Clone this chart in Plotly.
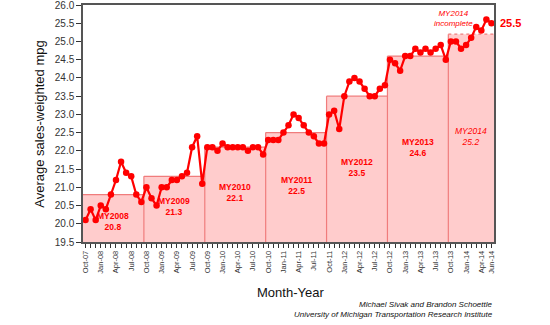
import pandas as pd
import plotly.graph_objects as go

# Monthly sales-weighted fuel economy, Oct-07 .. Jun-14
months = list(pd.date_range("2007-10-01", periods=81, freq="MS").strftime("%b-%y"))
mpg = [
    20.1, 20.4, 20.1, 20.5, 20.4, 20.8, 21.2, 21.7, 21.4, 21.3, 20.8, 20.6,   # MY2008
    21.0, 20.7, 20.5, 21.0, 21.0, 21.2, 21.2, 21.3, 21.4, 22.1, 22.4, 21.1,   # MY2009
    22.1, 22.1, 22.0, 22.2, 22.1, 22.1, 22.1, 22.1, 22.0, 22.1, 22.1, 21.9,   # MY2010
    22.3, 22.3, 22.3, 22.5, 22.7, 23.0, 22.9, 22.7, 22.5, 22.4, 22.2, 22.2,   # MY2011
    23.0, 23.1, 22.6, 23.5, 23.9, 24.0, 23.9, 23.7, 23.5, 23.5, 23.7, 23.8,   # MY2012
    24.5, 24.4, 24.2, 24.6, 24.6, 24.8, 24.7, 24.8, 24.7, 24.8, 24.9, 24.5,   # MY2013
    25.0, 25.0, 24.8, 24.9, 25.1, 25.4, 25.3, 25.6, 25.5,                     # MY2014
]

# Model-year averages (a model year runs October .. September)
model_years = ["MY2008", "MY2009", "MY2010", "MY2011", "MY2012", "MY2013", "MY2014"]
my_avg = [20.8, 21.3, 22.1, 22.5, 23.5, 24.6, 25.2]

# Vertical placement of the model-year captions
caption_y = [20.07, 20.47, 20.86, 21.05, 21.54, 22.10, 22.40]

FONT = "Liberation Sans, Arial, sans-serif"
RED = "#ff0000"
BAND_FILL = "#ffcccc"
BAND_EDGE = "#f07c7c"

n = len(months)
x = list(range(n))
tick_text = [m if (i % 3 == 0 or i == n - 1) else "" for i, m in enumerate(months)]

fig = go.Figure()

shapes = []
annotations = []
for k, (name, avg) in enumerate(zip(model_years, my_avg)):
    start = 12 * k
    end = min(12 * k + 11, n - 1)
    x0, x1 = start - 0.5, end + 0.5
    last = (k == len(model_years) - 1)
    # band fill
    shapes.append(dict(type="rect", xref="x", yref="y", x0=x0, x1=x1, y0=19.5, y1=avg,
                       fillcolor=BAND_FILL, line=dict(width=0), layer="below"))
    # band edges
    shapes.append(dict(type="line", xref="x", yref="y", x0=x0, x1=x1, y0=avg, y1=avg,
                       line=dict(color=BAND_EDGE, width=1.2, dash="dot" if last else "solid"),
                       layer="below"))
    if k > 0:
        shapes.append(dict(type="line", xref="x", yref="y", x0=x0, x1=x0, y0=19.5,
                           y1=max(avg, my_avg[k - 1]),
                           line=dict(color=BAND_EDGE, width=1.2), layer="below"))
    txt = f"<i>{name}<br>{avg:.1f}</i>" if last else f"<b>{name}<br>{avg:.1f}</b>"
    annotations.append(dict(x=(start + end) / 2, y=caption_y[k], xref="x", yref="y",
                            xanchor="center", yanchor="middle",
                            text=txt, showarrow=False,
                            font=dict(family=FONT, size=8.5, color=RED)))

fig.add_trace(go.Scatter(
    x=x, y=mpg, mode="lines+markers",
    line=dict(color=RED, width=2.2),
    marker=dict(color=RED, size=6.5),
    hoverinfo="skip", showlegend=False, cliponaxis=False,
))

# latest value label, just right of the plot frame
annotations.append(dict(x=1.0095, y=mpg[-1], xref="paper", yref="y",
                        xanchor="left", yanchor="middle",
                        text=f"<b>{mpg[-1]:.1f}</b>", showarrow=False,
                        font=dict(family=FONT, size=11, color=RED)))
annotations.append(dict(x=72.6, y=25.62, xref="x", yref="y",
                        xanchor="center", yanchor="middle",
                        text="<i>MY2014<br>incomplete</i>", showarrow=False,
                        font=dict(family=FONT, size=8, color=RED)))

# axis titles and credits
annotations.append(dict(x=0.504, y=-0.213, xref="paper", yref="paper",
                        xanchor="center", yanchor="middle",
                        text="Month-Year", showarrow=False,
                        font=dict(family=FONT, size=13, color="#111")))
annotations.append(dict(x=-0.1046, y=0.495, xref="paper", yref="paper",
                        xanchor="center", yanchor="middle",
                        text="Average sales-weighted mpg", textangle=-90, showarrow=False,
                        font=dict(family=FONT, size=13, color="#111")))
annotations.append(dict(x=1.003, y=-0.262, xref="paper", yref="paper",
                        xanchor="right", yanchor="middle",
                        text="<i>Michael Sivak and Brandon Schoettle</i>", showarrow=False,
                        font=dict(family=FONT, size=8, color="#111")))
annotations.append(dict(x=1.003, y=-0.304, xref="paper", yref="paper",
                        xanchor="right", yanchor="middle",
                        text="<i>University of Michigan Transportation Research Institute</i>",
                        showarrow=False, font=dict(family=FONT, size=8, color="#111")))

fig.update_layout(
    width=550, height=325,
    margin=dict(l=83, r=56, t=5, b=83),
    paper_bgcolor="white", plot_bgcolor="white",
    shapes=shapes, annotations=annotations,
    font=dict(family=FONT, color="#222"),
)
fig.update_xaxes(
    range=[-0.5, n - 0.5], tickmode="array", tickvals=x, ticktext=tick_text,
    tickangle=-90, tickfont=dict(family=FONT, size=7.5, color="#333"),
    ticks="outside", ticklen=4, tickwidth=1, tickcolor="#333",
    showgrid=False, zeroline=False, automargin=False, ticklabeloverflow="allow",
    showline=True, linecolor="#555", linewidth=1.5, mirror=True,
)
fig.update_yaxes(
    range=[19.5, 26.0], tickmode="linear", tick0=19.5, dtick=0.5, tickformat=".1f",
    tickfont=dict(family=FONT, size=10, color="#333"),
    ticks="outside", ticklen=5, tickwidth=1, tickcolor="#333",
    showgrid=False, zeroline=False, automargin=False, ticklabeloverflow="allow",
    showline=True, linecolor="#555", linewidth=1.5, mirror=True,
)

fig.write_html("out.html")
